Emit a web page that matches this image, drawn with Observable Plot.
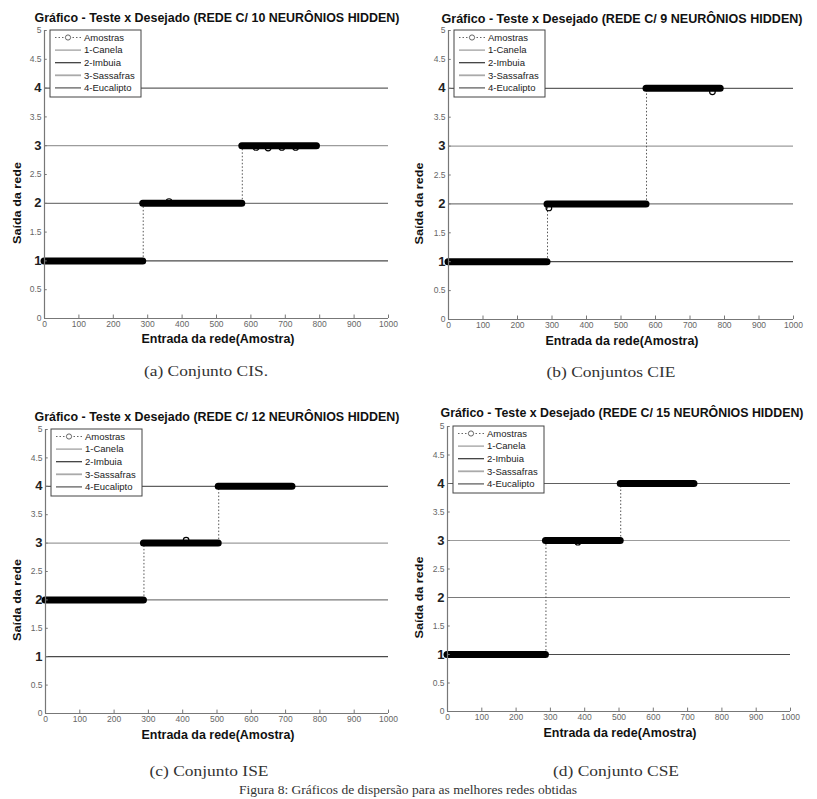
<!DOCTYPE html>
<html>
<head>
<meta charset="utf-8">
<script src="https://cdn.jsdelivr.net/npm/d3@7"></script>
<script src="https://cdn.jsdelivr.net/npm/@observablehq/plot@0.6"></script>
<style>
  html, body { margin: 0; padding: 0; background: #fff; }
  #page { position: relative; width: 817px; height: 799px; overflow: hidden; background: #fff; font-family: "Liberation Sans", Arial, sans-serif; }
  #page > svg.panel { position: absolute; }
  #overlay { position: absolute; left: 0; top: 0; pointer-events: none; }
</style>
</head>
<body>
<div id="page"></div>
<script>
// ---------------- data ----------------
const neuronCounts = [10, 9, 12, 15];
const captions = ["(a) Conjunto CIS.", "(b) Conjuntos CIE", "(c) Conjunto ISE", "(d) Conjunto CSE"];
const figureCaption = "Figura 8: Gráficos de dispersão para as melhores redes obtidas";
const legendLabels = ["Amostras", "1-Canela", "2-Imbuia", "3-Sassafras", "4-Eucalipto"];
const classLevels = [1, 2, 3, 4];
const xTicks = [0, 100, 200, 300, 400, 500, 600, 700, 800, 900, 1000];
const yMinorTicks = [0, 0.5, 1.5, 2.5, 3.5, 4.5, 5];
const yMajorTicks = [1, 2, 3, 4];

// sample runs (start sample, end sample, network output level)
const segStartA = [0, 287, 575];
const segEndA   = [287, 575, 792];
const segLevelA = [1, 2, 3];
const segStartB = [0, 287, 574];
const segEndB   = [287, 574, 789];
const segLevelB = [1, 2, 4];
const segStartC = [0, 287, 505];
const segEndC   = [287, 505, 720];
const segLevelC = [2, 3, 4];
const segStartD = [0, 287, 505];
const segEndD   = [287, 505, 720];
const segLevelD = [1, 3, 4];

// samples off the level
const outlierXA = [362, 615, 650, 690, 730];
const outlierYA = [2.03, 2.97, 2.96, 2.97, 2.97];
const outlierXB = [291, 765];
const outlierYB = [1.93, 3.94];
const outlierXC = [410];
const outlierYC = [3.05];
const outlierXD = [380];
const outlierYD = [2.97];

// ---------------- layout / style ----------------
const levelColors = ["#4a4a4a", "#7a7a7a", "#9c9c9c", "#606060"];
const legendColors = ["#999", "#333", "#aaa", "#555"];
const panels = [
  {x0: 44,  x1: 388, y5: 30,  y0: 318, titleY: 22,  titleX: 217, titleW: 365, xlabY: 343, xlabX: 218, ylabX: 21,  capY: 376, capX: 206, capW: 124, seg: [segStartA, segEndA, segLevelA], out: [outlierXA, outlierYA]},
  {x0: 448, x1: 793, y5: 30,  y0: 319, titleY: 23,  titleX: 622, titleW: 361, xlabY: 345, xlabX: 622, ylabX: 423, capY: 377, capX: 611, capW: 129, seg: [segStartB, segEndB, segLevelB], out: [outlierXB, outlierYB]},
  {x0: 45,  x1: 388, y5: 429, y0: 713, titleY: 421, titleX: 217, titleW: 365, xlabY: 739, xlabX: 218, ylabX: 21,  capY: 776, capX: 209, capW: 119, seg: [segStartC, segEndC, segLevelC], out: [outlierXC, outlierYC]},
  {x0: 447, x1: 790, y5: 426, y0: 711, titleY: 417, titleX: 622, titleW: 363, xlabY: 737, xlabX: 620, ylabX: 423, capY: 776, capX: 616, capW: 126, seg: [segStartD, segEndD, segLevelD], out: [outlierXD, outlierYD]}
];
const ml = 40, mr = 15, mt = 6, mb = 22;

const page = document.getElementById("page");

panels.forEach((p, k) => {
  const [st, en, lv] = p.seg;
  const segs = st.map((s, i) => ({start: s, end: en[i], level: lv[i]}));
  const transitions = segs.slice(1).map((s, i) => ({x: s.start, from: segs[i].level, to: s.level}));
  const outliers = p.out[0].map((x, i) => ({x, y: p.out[1][i]}));

  const chart = Plot.plot({
    width: p.x1 - p.x0 + ml + mr,
    height: p.y0 - p.y5 + mt + mb,
    marginLeft: ml, marginRight: mr, marginTop: mt, marginBottom: mb,
    x: {domain: [0, 1000]},
    y: {domain: [0, 5]},
    style: {background: "transparent", overflow: "visible", fontFamily: "Liberation Sans, Arial, sans-serif"},
    marks: [
      ...classLevels.map((lvl, i) => Plot.ruleY([lvl], {stroke: levelColors[i], strokeWidth: 1.2})),
      Plot.ruleX(transitions, {x: "x", y1: "from", y2: "to", stroke: "#555", strokeDasharray: "1.5,2", strokeWidth: 1}),
      Plot.ruleY(segs, {y: "level", x1: "start", x2: "end", stroke: "#000", strokeWidth: 7, strokeLinecap: "round"}),
      Plot.dot(outliers, {x: "x", y: "y", r: 2.8, stroke: "#000", fill: "none", strokeWidth: 1.2}),
      Plot.ruleX([0], {stroke: "#777", strokeWidth: 1.2}),
      Plot.ruleY([0], {stroke: "#777", strokeWidth: 1.2}),
      Plot.ruleX(xTicks, {x: d => d, y1: 0, y2: 0.06, stroke: "#777"}),
      Plot.ruleY(yMinorTicks.concat(yMajorTicks), {y: d => d, x1: 0, x2: 8, stroke: "#777"}),
      Plot.axisX({ticks: xTicks, tickSize: 0, tickPadding: 2, fontSize: 8.5, fill: "#666", label: null, tickFormat: d => String(d)}),
      Plot.axisY({ticks: yMinorTicks, tickSize: 0, tickPadding: 3, fontSize: 8.5, fill: "#666", label: null, tickFormat: d => String(d)}),
      Plot.axisY({ticks: yMajorTicks, tickSize: 0, tickPadding: 3, fontSize: 13, fontWeight: "bold", fill: "#222", label: null, tickFormat: d => String(d)})
    ]
  });
  chart.classList.add("panel");
  chart.style.left = (p.x0 - ml) + "px";
  chart.style.top = (p.y5 - mt) + "px";
  page.appendChild(chart);
});

// ---------------- overlay: titles, labels, legends, captions ----------------
const ov = d3.select(page).append("svg").attr("id", "overlay").attr("width", 817).attr("height", 799);

panels.forEach((p, k) => {
  ov.append("text")
    .attr("x", p.titleX).attr("y", p.titleY)
    .attr("text-anchor", "middle")
    .attr("font-family", "Liberation Sans, Arial, sans-serif")
    .attr("font-weight", "bold").attr("font-size", 12).attr("fill", "#111")
    .attr("textLength", p.titleW).attr("lengthAdjust", "spacingAndGlyphs")
    .text(`Gráfico - Teste x Desejado (REDE C/ ${neuronCounts[k]} NEURÔNIOS HIDDEN)`);

  ov.append("text")
    .attr("x", p.xlabX).attr("y", p.xlabY)
    .attr("text-anchor", "middle")
    .attr("font-family", "Liberation Sans, Arial, sans-serif")
    .attr("font-weight", "bold").attr("font-size", 12).attr("fill", "#111")
    .attr("textLength", 153).attr("lengthAdjust", "spacingAndGlyphs")
    .text("Entrada da rede(Amostra)");

  const yc = (p.y5 + p.y0) / 2 + 29;
  ov.append("text")
    .attr("transform", `translate(${p.ylabX},${yc}) rotate(-90)`)
    .attr("text-anchor", "middle")
    .attr("font-family", "Liberation Sans, Arial, sans-serif")
    .attr("font-weight", "bold").attr("font-size", 11.5).attr("fill", "#111")
    .attr("textLength", 82).attr("lengthAdjust", "spacingAndGlyphs")
    .text("Saída da rede");

  ov.append("text")
    .attr("x", p.capX).attr("y", p.capY)
    .attr("text-anchor", "middle")
    .attr("font-family", "Liberation Serif, Times New Roman, serif")
    .attr("font-size", 15).attr("fill", "#333")
    .attr("textLength", p.capW).attr("lengthAdjust", "spacingAndGlyphs")
    .text(captions[k]);

  // legend box
  const lx = p.x0 + 6, ly = p.y5;
  const g = ov.append("g").attr("transform", `translate(${lx},${ly})`);
  g.append("rect").attr("x", 0).attr("y", 0).attr("width", 91).attr("height", 67)
    .attr("fill", "#fff").attr("stroke", "#444").attr("stroke-width", 1);
  legendLabels.forEach((lab, i) => {
    const yy = 7.5 + i * 12.6;
    const line = g.append("line").attr("x1", 5).attr("x2", 31).attr("y1", yy).attr("y2", yy);
    if (i === 0) {
      line.attr("stroke", "#666").attr("stroke-dasharray", "1.5,2");
      g.append("circle").attr("cx", 18).attr("cy", yy).attr("r", 2.6).attr("fill", "#fff").attr("stroke", "#666");
    } else {
      line.attr("stroke", legendColors[i - 1]).attr("stroke-width", i === 3 ? 1.8 : 1.2);
    }
    g.append("text").attr("x", 34).attr("y", yy + 3.3)
      .attr("font-family", "Liberation Sans, Arial, sans-serif")
      .attr("font-size", 9.5).attr("fill", "#222")
      .text(lab);
  });
});

ov.append("text")
  .attr("x", 408).attr("y", 794)
  .attr("text-anchor", "middle")
  .attr("font-family", "Liberation Serif, Times New Roman, serif")
  .attr("font-size", 13.5).attr("fill", "#333")
  .text(figureCaption);
</script>
</body>
</html>
